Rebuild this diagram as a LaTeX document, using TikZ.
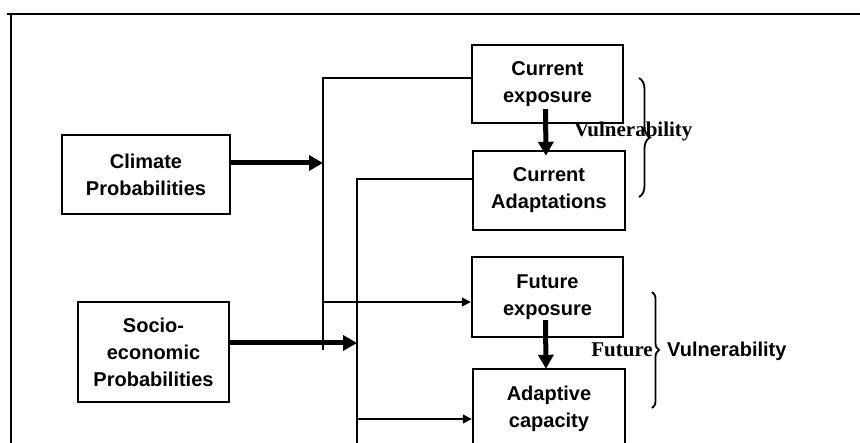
\documentclass[tikz,border=0pt]{standalone}
\usepackage{fontspec}
\setmainfont{Liberation Serif}
\setsansfont{Liberation Sans}
\usetikzlibrary{arrows.meta, decorations.pathreplacing}

\tikzset{
  box/.style={draw, line width=2.4pt, align=center, font=\sffamily\bfseries\fontsize{20}{27}\selectfont},
  link/.style={line width=2pt},
  bigarrow/.style={line width=5pt, -{Triangle[length=14pt,width=15pt]}},
  smallarrow/.style={line width=1.4pt, -{Triangle[length=9pt,width=9pt]}},
  bracket/.style={line width=1.8pt, decorate, decoration={brace, amplitude=#1}},
}

\begin{document}
\begin{tikzpicture}[x=1pt, y=-1pt]
                \useasboundingbox (0,0) rectangle (860,443);
                \clip (0,0) rectangle (860,443);
                % Frame:
                \draw[line width=2.4pt] (7,14) -- (862,14);
                \draw[line width=1.2pt] (11,14) -- (11,445);

                % Boxes:
                \node[box, minimum width=168pt, minimum height=79pt] (climate) at (146,174.5) {Climate\\Probabilities};
                \node[box, minimum width=151pt, minimum height=100pt] (socio) at (153.5,352) {Socio-\\economic\\Probabilities};
                \node[box, minimum width=151pt, minimum height=78pt] (cexp) at (547.5,84) {Current\\exposure};
                \node[box, minimum width=152pt, minimum height=79pt] (cadapt) at (549,190.5) {Current\\Adaptations};
                \node[box, minimum width=151pt, minimum height=80pt] (fexp) at (547.5,297) {Future\\exposure};
                \node[box, minimum width=152pt, minimum height=80pt] (adcap) at (549,409) {Adaptive\\capacity};

                % Joints on the two risers:
                \coordinate (v1top) at (323,78);
                \coordinate (v1bot) at (323,350);
                \coordinate (v2top) at (357,179);
                \coordinate (v2bot) at (357,450);
                \coordinate (ca) at (323,163);
                \coordinate (sa) at (357,343);
                \coordinate (fa) at (323,302);
                \coordinate (aa) at (357,419);

                % Risers:
                \draw[link] (v1top -| cexp.west) -- (v1top) -- (v1bot);
                \draw[link] (v2top -| cadapt.west) -- (v2top) -- (v2bot);

                % Arrows:
                \draw[bigarrow] (ca -| climate.east) -- (ca);
                \draw[bigarrow] (sa -| socio.east) -- (sa);
                \draw[smallarrow] (fa) -- (fa -| fexp.west);
                \draw[smallarrow] (aa) -- (aa -| adcap.west);
                \draw[bigarrow] ([xshift=-2pt, yshift=15pt]cexp.south) -- ([xshift=-3pt, yshift=-6pt]cadapt.north);
                \draw[bigarrow] ([xshift=-2pt, yshift=18pt]fexp.south) -- ([xshift=-3pt, yshift=-1pt]adcap.north);

                % Braces:
                \draw[bracket=11pt] (639,78) -- (639,197);
                \draw[bracket=7pt] (652,292) -- (652,408);
                \node[anchor=west, font=\bfseries\fontsize{21}{21}\selectfont, inner sep=0pt] (vuln1) at (574,131) {Vulnerability};
                \node[anchor=east, font=\bfseries\fontsize{21}{21}\selectfont, inner sep=0pt] (fut) at (653,350) {Future};
                \node[anchor=west, font=\sffamily\bfseries\fontsize{20}{20}\selectfont, inner sep=0pt] (vuln2) at (667,351) {Vulnerability};
            \end{tikzpicture}
\end{document}
